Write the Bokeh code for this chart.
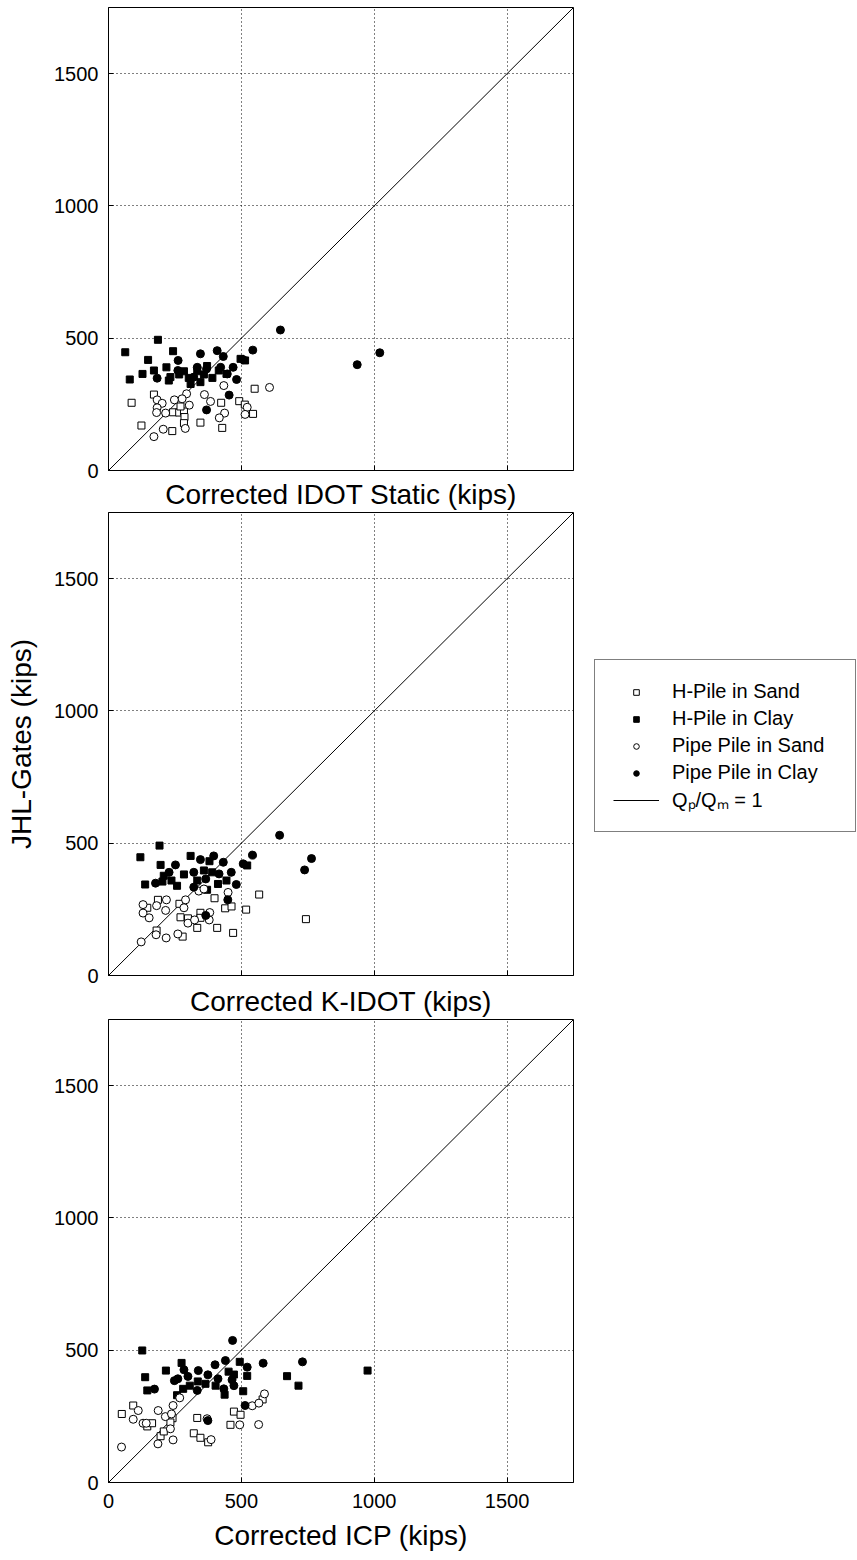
from bokeh.plotting import figure
from bokeh.layouts import gridplot
from bokeh.models import Range1d, FixedTicker, Legend, LegendItem
from bokeh.embed import file_html
from bokeh.resources import INLINE

# ---------------- data (kips) ----------------
axis_ticks = [0, 500, 1000, 1500]
axis_max = 1750
one_to_one = [0, 1750]

panel_xlabels = ["Corrected IDOT Static (kips)", "Corrected K-IDOT (kips)", "Corrected ICP (kips)"]
y_label = "JHL-Gates (kips)"
series_names = ["H-Pile in Sand", "H-Pile in Clay", "Pipe Pile in Sand", "Pipe Pile in Clay"]
line_name = "Q\u209a/Q\u2098 = 1"

# Panel 1: Corrected IDOT Static
idot_hsand_x = [87, 171, 124, 243, 266, 284, 271, 286, 284, 240, 346, 424, 428, 492, 513, 544, 550]
idot_hsand_y = [256, 287, 170, 220, 219, 223, 242, 202, 179, 149, 181, 256, 161, 262, 249, 214, 309]
idot_hclay_x = [186, 63, 243, 149, 171, 128, 80, 218, 233, 227, 266, 284, 309, 371, 391, 346, 415, 444, 497, 514, 359, 334, 302]
idot_hclay_y = [494, 447, 451, 418, 378, 365, 344, 390, 353, 340, 363, 375, 327, 395, 350, 334, 378, 365, 422, 416, 363, 375, 350]
idot_psand_x = [606, 434, 361, 384, 294, 277, 248, 183, 202, 183, 181, 215, 304, 206, 171, 289, 437, 417, 522, 514]
idot_psand_y = [314, 321, 287, 261, 290, 271, 267, 267, 254, 237, 219, 217, 247, 156, 128, 159, 217, 199, 239, 212]
idot_pclay_x = [647, 1021, 936, 543, 409, 346, 432, 262, 507, 469, 422, 334, 369, 261, 447, 482, 183, 321, 454, 369]
idot_pclay_y = [531, 445, 400, 455, 453, 441, 431, 416, 419, 390, 390, 390, 384, 378, 365, 344, 349, 353, 285, 229]

# Panel 2: Corrected K-IDOT
kidot_hsand_x = [567, 399, 439, 463, 518, 743, 186, 267, 271, 299, 346, 346, 334, 409, 469, 181, 279, 146]
kidot_hsand_y = [306, 292, 254, 261, 249, 213, 286, 271, 220, 216, 237, 218, 180, 180, 161, 170, 147, 256]
kidot_hclay_x = [192, 120, 196, 309, 380, 208, 203, 138, 258, 237, 284, 359, 390, 412, 444, 522, 371, 334]
kidot_hclay_y = [491, 447, 418, 452, 432, 377, 355, 344, 339, 359, 382, 397, 390, 346, 359, 416, 324, 359]
kidot_psand_x = [123, 179, 217, 261, 130, 130, 153, 181, 218, 215, 290, 284, 299, 324, 381, 379, 340, 359, 450]
kidot_psand_y = [127, 154, 142, 157, 268, 236, 218, 264, 286, 246, 286, 256, 198, 210, 238, 210, 319, 327, 314]
kidot_pclay_x = [644, 764, 738, 542, 507, 396, 346, 432, 252, 228, 177, 321, 416, 462, 481, 321, 366, 449, 366]
kidot_pclay_y = [530, 442, 399, 455, 422, 452, 438, 428, 418, 390, 349, 390, 384, 390, 344, 334, 365, 286, 227]

# Panel 3: Corrected ICP
icp_hsand_x = [50, 93, 146, 164, 241, 233, 196, 334, 472, 497, 459, 580, 321, 346, 375, 208]
icp_hsand_y = [259, 291, 212, 224, 243, 227, 175, 244, 268, 256, 218, 314, 186, 169, 152, 193]
icp_hclay_x = [127, 275, 216, 138, 146, 258, 494, 452, 522, 672, 715, 507, 437, 306, 336, 365, 403, 281, 472, 975]
icp_hclay_y = [499, 452, 423, 398, 348, 330, 456, 419, 403, 402, 366, 345, 332, 366, 382, 373, 366, 354, 408, 423]
icp_psand_x = [49, 93, 112, 130, 187, 214, 237, 243, 268, 233, 186, 243, 386, 371, 494, 565, 541, 566, 587, 142]
icp_psand_y = [134, 239, 272, 224, 272, 249, 259, 291, 320, 203, 146, 161, 162, 241, 218, 219, 290, 300, 335, 224]
icp_pclay_x = [467, 730, 582, 522, 440, 401, 338, 284, 374, 299, 261, 248, 412, 465, 472, 434, 334, 173, 514, 374]
icp_pclay_y = [537, 456, 451, 436, 461, 445, 423, 426, 407, 401, 392, 385, 392, 388, 366, 354, 348, 353, 291, 234]

panels = [
    [(idot_hsand_x, idot_hsand_y), (idot_hclay_x, idot_hclay_y), (idot_psand_x, idot_psand_y), (idot_pclay_x, idot_pclay_y)],
    [(kidot_hsand_x, kidot_hsand_y), (kidot_hclay_x, kidot_hclay_y), (kidot_psand_x, kidot_psand_y), (kidot_pclay_x, kidot_pclay_y)],
    [(icp_hsand_x, icp_hsand_y), (icp_hclay_x, icp_hclay_y), (icp_psand_x, icp_psand_y), (icp_pclay_x, icp_pclay_y)],
]

# ---------------- styling ----------------
FONT = "Liberation Sans"
styles = [
    dict(marker="square", size=7, fill_color="white", line_color="black"),
    dict(marker="square", size=7, fill_color="black", line_color="black"),
    dict(marker="circle", size=8, fill_color="white", line_color="black"),
    dict(marker="circle", size=8, fill_color="black", line_color="black"),
]

heights = [512, 507, 541]
tops = [7, 0, 0]
bottoms = [42, 44, 78]
xlabel_standoffs = [8, 10, 9]
LEFT_W = 574
RIGHT_W = 857 - LEFT_W

figs = []
for i in range(3):
    p = figure(width=LEFT_W, height=heights[i],
               x_range=Range1d(0, axis_max), y_range=Range1d(0, axis_max),
               output_backend="svg", toolbar_location=None,
               min_border_left=108, min_border_right=1,
               min_border_top=tops[i], min_border_bottom=bottoms[i])
    p.outline_line_color = "black"
    p.outline_line_width = 1
    p.background_fill_color = "white"
    p.border_fill_color = "white"

    for ax in (p.xaxis[0], p.yaxis[0]):
        ax.ticker = FixedTicker(ticks=axis_ticks)
        ax.major_tick_in = 5
        ax.major_tick_out = 0
        ax.minor_tick_in = 5
        ax.minor_tick_out = 0
        ax.minor_tick_line_color = "black"
        ax.axis_line_color = "black"
        ax.major_tick_line_color = "black"
        ax.major_label_text_font = FONT
        ax.major_label_text_font_size = "20px"
        ax.major_label_text_color = "black"
        ax.major_label_standoff = 10
        ax.axis_label_text_font = FONT
        ax.axis_label_text_font_size = "28px"
        ax.axis_label_text_font_style = "normal"
        ax.axis_label_text_color = "black"

    p.xaxis[0].axis_label = panel_xlabels[i]
    p.xaxis[0].axis_label_standoff = xlabel_standoffs[i]
    if i < 2:
        # upper panels: unlabeled ticks only
        p.xaxis[0].ticker = FixedTicker(ticks=[], minor_ticks=axis_ticks)
    else:
        p.xaxis[0].major_label_standoff = 11
    if i == 1:
        p.yaxis[0].axis_label = y_label
        p.yaxis[0].axis_label_standoff = 14

    for g in (p.xgrid[0], p.ygrid[0]):
        g.ticker = FixedTicker(ticks=axis_ticks)
        g.grid_line_color = "black"
        g.grid_line_dash = "1 3"
        g.grid_line_width = 1

    p.line(one_to_one, one_to_one, line_color="black", line_width=1)
    for (xs, ys), st in zip(panels[i], styles):
        p.scatter(xs, ys, line_width=1, **st)
    figs.append(p)

# ---------------- legend (beside the middle panel) ----------------
# The legend figure re-plots the middle panel's series over a range that
# excludes them, so only the legend itself is visible there.
lg = figure(width=RIGHT_W, height=heights[1], x_range=Range1d(-2, -1), y_range=Range1d(-2, -1),
            output_backend="svg", toolbar_location=None,
            x_axis_location=None, y_axis_location=None,
            min_border_left=0, min_border_right=0, min_border_top=0, min_border_bottom=0)
lg.outline_line_color = None
lg.grid.visible = False
lg.background_fill_color = "white"
lg.border_fill_color = "white"

leg_rends = [lg.scatter(xs, ys, line_width=1, **st) for (xs, ys), st in zip(panels[1], styles)]
leg_line = lg.line(one_to_one, one_to_one, line_color="black", line_width=1)
items = [LegendItem(label=n, renderers=[r]) for n, r in zip(series_names, leg_rends)]
items.append(LegendItem(label=line_name, renderers=[leg_line]))
legend = Legend(items=items, location=(20, 143), orientation="vertical",
                margin=0, padding=18, spacing=0,
                glyph_width=46, glyph_height=14,
                label_height=27, label_width=165, label_standoff=13,
                label_text_font=FONT, label_text_font_size="20px",
                label_text_color="black",
                border_line_color="black", border_line_width=1,
                background_fill_color="white", background_fill_alpha=1.0)
lg.add_layout(legend, "center")

grid = gridplot([[figs[0], None], [figs[1], lg], [figs[2], None]],
                toolbar_location=None, merge_tools=False)
open("out.html", "w").write(file_html(grid, INLINE))
